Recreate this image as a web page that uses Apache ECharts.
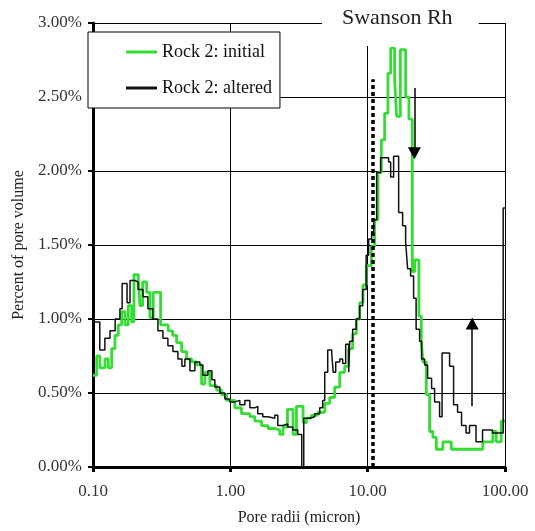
<!DOCTYPE html>
<html>
<head>
<meta charset="utf-8">
<script src="https://cdn.jsdelivr.net/npm/echarts@6/dist/echarts.min.js"></script>
<style>
  html, body { margin: 0; padding: 0; background: #fff; }
  #main { width: 535px; height: 531px; }
</style>
</head>
<body>
<div id="main"></div>
<script>
// pore radii (micron) where each step starts, and percent of pore volume
var radiiInitial = [0.100, 0.1064, 0.1124, 0.1223, 0.1292, 0.1368, 0.1445, 0.1528, 0.1617, 0.1709,
  0.1806, 0.1912, 0.1987, 0.2136, 0.2197, 0.2298, 0.2458, 0.2598, 0.2745, 0.3107,
  0.3529, 0.3800, 0.4063, 0.4418, 0.4803, 0.5222, 0.5678, 0.6173, 0.6525, 0.7095,
  0.7937, 0.8630, 0.9385, 1.078, 1.206, 1.387, 1.507, 1.686, 1.883, 2.107,
  2.291, 2.421, 2.606, 2.862, 3.031, 3.385, 3.583, 3.895, 4.351, 4.868,
  5.292, 5.754, 6.259, 6.804, 7.276, 7.78, 8.276, 8.746, 9.244, 9.784,
  10.64, 11.24, 11.88, 12.58, 13.29, 14.05, 14.70, 15.72, 16.25, 17.29,
  18.90, 19.97, 21.14, 21.97, 23.61, 24.58, 25.25, 26.73, 28.24, 29.84,
  31.60, 35.29, 40.63, 68.94, 81.53, 86.30, 93.85, 100];
var initial = [0.62, 0.75, 0.67, 0.73, 0.67, 0.80, 0.89, 0.96, 1.05, 0.96,
  1.09, 0.98, 1.30, 1.27, 1.09, 1.25, 1.18, 1.01, 1.18, 0.96,
  0.92, 0.89, 0.84, 0.78, 0.73, 0.71, 0.69, 0.56, 0.64, 0.55,
  0.52, 0.49, 0.45, 0.40, 0.36, 0.34, 0.31, 0.28, 0.26, 0.25,
  0.22, 0.27, 0.39, 0.22, 0.41, 0.30, 0.33, 0.35, 0.37, 0.43,
  0.47, 0.54, 0.64, 0.68, 0.80, 0.90, 1.00, 1.11, 1.23, 1.36,
  1.49, 1.67, 1.99, 2.21, 2.39, 2.66, 2.83, 2.61, 2.37, 2.82,
  2.50, 2.35, 1.32, 1.40, 1.02, 0.85, 0.71, 0.49, 0.24, 0.20,
  0.12, 0.17, 0.12, 0.17, 0.24, 0.17, 0.31, 0.31];

var radiiAltered = [0.100, 0.112, 0.122, 0.133, 0.145, 0.157, 0.163, 0.177, 0.186, 0.202,
  0.213, 0.231, 0.251, 0.273, 0.297, 0.323, 0.351, 0.382, 0.415, 0.444,
  0.467, 0.508, 0.552, 0.600, 0.631, 0.686, 0.734, 0.771, 0.839, 0.912,
  0.992, 1.078, 1.173, 1.275, 1.387, 1.507, 1.585, 1.723, 1.874, 2.107,
  2.216, 2.409, 2.619, 2.848, 3.097, 3.311, 3.424, 3.786, 4.117, 4.476,
  4.707, 4.868, 5.117, 5.472, 5.61, 5.853, 6.259, 6.577, 6.918, 7.276,
  7.40, 7.78, 8.25, 8.746, 9.197, 9.75, 10.17, 10.69, 11.06, 11.63,
  12.43, 14.21, 14.70, 15.45, 16.81, 17.97, 18.90, 19.54, 20.54, 21.60,
  22.53, 23.88, 24.70, 25.97, 27.31, 29.21, 30.71, 33.39, 34.82, 39.49,
  42.23, 45.14, 48.27, 52.05, 55.18, 61.52, 68.61, 81.10, 97.0, 100];
var altered = [0.98, 0.79, 0.87, 0.92, 1.00, 1.07, 1.24, 1.11, 1.26, 1.25,
  1.20, 1.15, 1.07, 1.00, 0.92, 0.87, 0.82, 0.78, 0.73, 0.68,
  0.73, 0.65, 0.71, 0.69, 0.62, 0.65, 0.59, 0.54, 0.50, 0.46,
  0.44, 0.45, 0.42, 0.45, 0.40, 0.41, 0.36, 0.34, 0.33, 0.35,
  0.28, 0.29, 0.27, 0.25, 0.22, 0.00, 0.33, 0.34, 0.36, 0.40,
  0.45, 0.64, 0.79, 0.77, 0.64, 0.71, 0.73, 0.70, 0.83, 0.64,
  0.85, 0.93, 1.00, 1.09, 1.20, 1.43, 1.54, 1.59, 1.67, 1.99,
  2.09, 2.06, 1.96, 2.10, 1.72, 1.63, 1.52, 1.34, 1.29, 1.14,
  0.93, 0.85, 0.73, 0.69, 0.60, 0.53, 0.44, 0.34, 0.77, 0.68,
  0.42, 0.37, 0.28, 0.23, 0.28, 0.17, 0.25, 0.23, 1.75, 1.75];

// Swanson Rh marker and the two arrows
var swansonRh = 10.9;
var downArrow = [21.9, 2.56, 2.12];
var upArrow = [57.7, 0.41, 0.97];

var font = 'Liberation Serif';

function pairs(xs, ys) {
  return xs.map(function (x, i) { return [x, ys[i]]; });
}

var dom = document.getElementById('main');
var myChart = echarts.init(dom);

var option = {
  animation: false,
  title: {
    text: 'Swanson Rh',
    left: 322,
    top: 0,
    padding: [7, 26, 17, 20],
    backgroundColor: '#fff',
    textStyle: { fontFamily: font, fontSize: 22, fontWeight: 'normal', color: '#222' }
  },
  legend: {
    orient: 'vertical',
    left: 88,
    top: 32,
    padding: [10, 8, 10, 38],
    itemGap: 16,
    itemWidth: 31,
    itemHeight: 3,
    icon: 'rect',
    backgroundColor: '#fff',
    borderColor: '#000',
    borderWidth: 1,
    textStyle: { fontFamily: font, fontSize: 18, color: '#111', lineHeight: 20 },
    data: ['Rock 2: initial', 'Rock 2: altered']
  },
  grid: { left: 93, right: 30, top: 23, bottom: 62 },
  xAxis: {
    type: 'log',
    logBase: 10,
    min: 0.1,
    max: 100,
    name: 'Pore radii (micron)',
    nameLocation: 'middle',
    nameGap: 43,
    nameTextStyle: { fontFamily: font, fontSize: 16, color: '#222' },
    axisLine: { show: true, lineStyle: { color: '#000', width: 3 } },
    axisTick: { show: true, length: 5, lineStyle: { color: '#000', width: 3 } },
    minorTick: { show: false },
    axisLabel: {
      fontFamily: font, fontSize: 17, color: '#333', margin: 16,
      formatter: function (v) { return Number(v).toFixed(2); }
    },
    splitLine: { show: true, lineStyle: { color: '#000', width: 1 } }
  },
  yAxis: {
    type: 'value',
    min: 0,
    max: 3,
    interval: 0.5,
    name: 'Percent of pore volume',
    nameLocation: 'middle',
    nameGap: 65,
    nameTextStyle: { fontFamily: font, fontSize: 16, color: '#222' },
    axisLine: { show: true, lineStyle: { color: '#000', width: 3 } },
    axisTick: { show: true, length: 5, lineStyle: { color: '#000', width: 2 } },
    axisLabel: {
      fontFamily: font, fontSize: 17, color: '#333', margin: 11,
      formatter: function (v) { return v.toFixed(2) + '%'; }
    },
    splitLine: { show: true, lineStyle: { color: '#000', width: 1 } }
  },
  series: [
    {
      name: 'Rock 2: initial',
      type: 'line',
      step: 'end',
      symbol: 'none',
      data: pairs(radiiInitial, initial),
      lineStyle: { color: '#33dd33', width: 2.8 },
      itemStyle: { color: '#33dd33' },
      z: 3
    },
    {
      name: 'Rock 2: altered',
      type: 'line',
      step: 'end',
      symbol: 'none',
      data: pairs(radiiAltered, altered),
      lineStyle: { color: '#111', width: 1.5 },
      itemStyle: { color: '#111' },
      z: 4,
      markLine: {
        silent: true,
        animation: false,
        label: { show: false },
        data: [
          [
            { coord: [swansonRh, 0], symbol: 'none', lineStyle: { type: [4, 3], width: 3.5, color: '#000' } },
            { coord: [swansonRh, 2.62], symbol: 'none' }
          ],
          [
            { coord: [downArrow[0], downArrow[1]], symbol: 'none', lineStyle: { type: 'solid', width: 1.5, color: '#000' } },
            { coord: [downArrow[0], downArrow[2]], symbol: 'triangle', symbolSize: [13, 12] }
          ],
          [
            { coord: [upArrow[0], upArrow[1]], symbol: 'none', lineStyle: { type: 'solid', width: 1.5, color: '#000' } },
            { coord: [upArrow[0], upArrow[2]], symbol: 'triangle', symbolSize: [13, 12] }
          ]
        ]
      }
    }
  ]
};

myChart.setOption(option);
</script>
</body>
</html>
